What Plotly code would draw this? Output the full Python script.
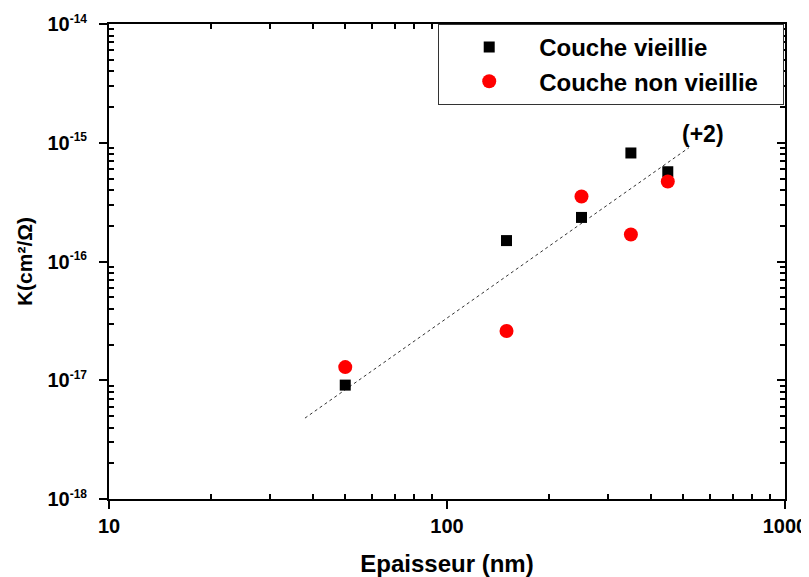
import plotly.graph_objects as go

# Epaisseur (nm)
epaisseur = [50, 150, 250, 350, 450]
# K (cm2/Ohm)
k_vieillie = [9.1e-18, 1.5e-16, 2.35e-16, 8.2e-16, 5.7e-16]
k_non_vieillie = [1.29e-17, 2.6e-17, 3.53e-16, 1.69e-16, 4.72e-16]

# slope (+2) guide line, end points
fit_x = [38, 520]
fit_y = [4.8e-18, 9.1e-16]

x_major = [10, 100, 1000]
x_major_text = ["10", "100", "1000"]
y_major = [1e-18, 1e-17, 1e-16, 1e-15, 1e-14]
y_exponents = ["-18", "-17", "-16", "-15", "-14"]
x_minor = [m * d for d in (10, 100) for m in range(2, 10)]
y_minor = [m * d for d in (1e-18, 1e-17, 1e-16, 1e-15) for m in range(2, 10)]

y_major_text = ["10<sup><span style='font-size:12px'>%s</span></sup>" % e
                for e in y_exponents]

FONT = "Liberation Sans, Arial, sans-serif"
tail = "\u00a0" * 3

fig = go.Figure()

fig.add_trace(go.Scatter(
    x=fit_x, y=fit_y, mode="lines",
    line=dict(color="#333333", width=1, dash="dot"),
    showlegend=False, hoverinfo="skip"
))
fig.add_trace(go.Scatter(
    x=epaisseur, y=k_vieillie, mode="markers", name="Couche vieillie" + tail,
    marker=dict(symbol="square", size=11, color="black")
))
fig.add_trace(go.Scatter(
    x=epaisseur, y=k_non_vieillie, mode="markers", name="Couche non vieillie" + tail,
    marker=dict(symbol="circle", size=14, color="#ff0000")
))
# dummy trace so the top / right axes get drawn
fig.add_trace(go.Scatter(x=[None], y=[None], xaxis="x2", yaxis="y2",
                         showlegend=False, hoverinfo="skip"))

fig.add_annotation(
    x=2.757, y=-14.93, xref="x", yref="y", text="(+2)", showarrow=False,
    font=dict(family=FONT, size=23, color="black", weight="bold")
)

axis_common = dict(
    type="log", showgrid=False, zeroline=False, automargin=False,
    showline=True, linecolor="black", linewidth=2,
)
minor_x = dict(tickmode="array", tickvals=x_minor, ticks="inside",
               ticklen=5, tickwidth=1.5, tickcolor="black", showgrid=False)
minor_y = dict(tickmode="array", tickvals=y_minor, ticks="inside",
               ticklen=5, tickwidth=1.5, tickcolor="black", showgrid=False)

# page body adds 8px margin, so the figure is 8px smaller than the window
fig.update_layout(
    width=801, height=569,
    margin=dict(l=101, r=24, t=16, b=78),
    plot_bgcolor="white", paper_bgcolor="white",
    font=dict(family=FONT, size=20, color="black", weight="bold"),
    xaxis=dict(
        **axis_common, range=[1, 3],
        tickmode="array", tickvals=x_major, ticktext=x_major_text,
        ticks="outside", ticklen=8, tickwidth=2, tickcolor="black",
        minor=minor_x,
        title=dict(text="Epaisseur (nm)", font=dict(size=24), standoff=20),
    ),
    yaxis=dict(
        **axis_common, range=[-18, -14],
        tickmode="array", tickvals=y_major, ticktext=y_major_text,
        ticks="outside", ticklen=8, tickwidth=2, tickcolor="black",
        ticklabelstandoff=8, minor=minor_y,
        title=dict(text="K(cm²/Ω)", font=dict(size=21), standoff=9),
    ),
    xaxis2=dict(
        **axis_common, range=[1, 3], overlaying="x", side="top", anchor="y",
        showticklabels=False, tickmode="array", tickvals=x_major,
        ticks="inside", ticklen=8, tickwidth=2, tickcolor="black",
        minor=minor_x,
    ),
    yaxis2=dict(
        **axis_common, range=[-18, -14], overlaying="y", side="right", anchor="x",
        showticklabels=False, tickmode="array", tickvals=y_major,
        ticks="inside", ticklen=8, tickwidth=2, tickcolor="black",
        minor=minor_y,
    ),
    legend=dict(
        x=0.487, y=1.0, xanchor="left", yanchor="top",
        bgcolor="white", bordercolor="#333333", borderwidth=1,
        font=dict(size=24), itemwidth=90,
    ),
    showlegend=True,
)

fig.write_html("out.html")
